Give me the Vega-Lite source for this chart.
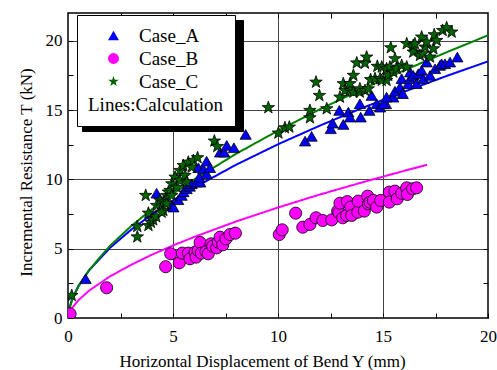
{
  "$schema": "https://vega.github.io/schema/vega-lite/v6.json",
  "width": 420,
  "height": 305,
  "autosize": {"type": "none"},
  "padding": {"left": 68, "top": 13, "right": 9, "bottom": 52},
  "background": "white",
  "config": {
    "font": "Liberation Serif",
    "view": {"stroke": "black", "strokeWidth": 1.5},
    "axis": {
      "labelFontSize": 17, "labelColor": "black", "tickColor": "black", "titleColor": "black",
      "titleFontSize": 17, "titleFontWeight": "normal", "domain": false,
      "labelFlush": false, "labelOverlap": false, "labelBound": false, "tickSize": -5, "tickWidth": 1
    }
  },
  "datasets": {
    "pts": [
      {"case":"Case_A","x":0.84,"y":2.83},{"case":"Case_A","x":4.22,"y":9.0},{"case":"Case_A","x":4.94,"y":8.12},{"case":"Case_A","x":5.02,"y":8.0},
      {"case":"Case_A","x":5.25,"y":8.53},{"case":"Case_A","x":5.41,"y":8.84},{"case":"Case_A","x":5.5,"y":9.1},{"case":"Case_A","x":5.65,"y":9.32},
      {"case":"Case_A","x":5.8,"y":9.5},{"case":"Case_A","x":5.89,"y":9.68},{"case":"Case_A","x":6.13,"y":9.8},{"case":"Case_A","x":6.3,"y":9.8},
      {"case":"Case_A","x":6.25,"y":10.16},{"case":"Case_A","x":6.21,"y":10.84},{"case":"Case_A","x":6.44,"y":10.76},{"case":"Case_A","x":6.6,"y":10.4},
      {"case":"Case_A","x":6.6,"y":11.31},{"case":"Case_A","x":6.76,"y":10.84},{"case":"Case_A","x":7.24,"y":11.96},{"case":"Case_A","x":7.44,"y":11.96},
      {"case":"Case_A","x":7.56,"y":12.45},{"case":"Case_A","x":7.9,"y":12.28},{"case":"Case_A","x":8.46,"y":13.24},{"case":"Case_A","x":11.29,"y":12.76},
      {"case":"Case_A","x":11.6,"y":13.1},{"case":"Case_A","x":12.51,"y":13.65},{"case":"Case_A","x":12.6,"y":14.06},{"case":"Case_A","x":13.11,"y":13.96},
      {"case":"Case_A","x":12.92,"y":14.97},{"case":"Case_A","x":13.35,"y":14.85},{"case":"Case_A","x":13.43,"y":14.49},{"case":"Case_A","x":13.94,"y":14.49},
      {"case":"Case_A","x":13.9,"y":15.45},{"case":"Case_A","x":14.35,"y":14.97},{"case":"Case_A","x":14.46,"y":16.05},{"case":"Case_A","x":14.7,"y":15.45},
      {"case":"Case_A","x":14.86,"y":15.21},{"case":"Case_A","x":15.14,"y":15.45},{"case":"Case_A","x":15.49,"y":15.93},{"case":"Case_A","x":15.57,"y":16.36},
      {"case":"Case_A","x":15.02,"y":15.45},{"case":"Case_A","x":15.17,"y":15.93},{"case":"Case_A","x":15.81,"y":16.65},{"case":"Case_A","x":15.94,"y":16.18},
      {"case":"Case_A","x":15.89,"y":17.26},{"case":"Case_A","x":16.2,"y":16.9},{"case":"Case_A","x":16.29,"y":17.26},{"case":"Case_A","x":16.29,"y":17.74},
      {"case":"Case_A","x":16.44,"y":17.5},{"case":"Case_A","x":16.6,"y":16.9},{"case":"Case_A","x":16.68,"y":17.62},{"case":"Case_A","x":16.84,"y":17.86},
      {"case":"Case_A","x":16.92,"y":17.26},{"case":"Case_A","x":17.08,"y":18.46},{"case":"Case_A","x":17.24,"y":17.5},{"case":"Case_A","x":17.48,"y":17.98},
      {"case":"Case_A","x":17.71,"y":18.22},{"case":"Case_A","x":17.79,"y":18.34},{"case":"Case_A","x":17.95,"y":18.34},{"case":"Case_A","x":18.19,"y":18.46},
      {"case":"Case_A","x":18.54,"y":18.82},
      {"case":"Case_B","x":0.1,"y":0.3},{"case":"Case_B","x":1.84,"y":2.18},{"case":"Case_B","x":4.65,"y":3.7},{"case":"Case_B","x":4.89,"y":4.63},
      {"case":"Case_B","x":5.3,"y":3.98},{"case":"Case_B","x":5.44,"y":4.68},{"case":"Case_B","x":5.73,"y":4.68},{"case":"Case_B","x":5.81,"y":4.27},
      {"case":"Case_B","x":6.05,"y":4.75},{"case":"Case_B","x":6.1,"y":4.39},{"case":"Case_B","x":6.2,"y":4.87},{"case":"Case_B","x":6.29,"y":5.45},
      {"case":"Case_B","x":6.35,"y":4.68},{"case":"Case_B","x":6.57,"y":4.78},{"case":"Case_B","x":6.68,"y":4.63},{"case":"Case_B","x":6.81,"y":5.35},
      {"case":"Case_B","x":6.89,"y":5.18},{"case":"Case_B","x":7.08,"y":5.06},{"case":"Case_B","x":7.16,"y":5.47},{"case":"Case_B","x":7.24,"y":5.83},
      {"case":"Case_B","x":7.37,"y":5.28},{"case":"Case_B","x":7.52,"y":5.71},{"case":"Case_B","x":7.71,"y":6.02},{"case":"Case_B","x":7.97,"y":6.12},
      {"case":"Case_B","x":10.06,"y":6.02},{"case":"Case_B","x":10.2,"y":6.36},{"case":"Case_B","x":10.84,"y":7.56},{"case":"Case_B","x":11.18,"y":6.55},
      {"case":"Case_B","x":11.52,"y":6.75},{"case":"Case_B","x":11.81,"y":7.23},{"case":"Case_B","x":12.13,"y":7.03},{"case":"Case_B","x":12.56,"y":7.08},
      {"case":"Case_B","x":12.84,"y":7.71},{"case":"Case_B","x":12.9,"y":7.61},{"case":"Case_B","x":12.95,"y":8.28},{"case":"Case_B","x":13.08,"y":7.23},
      {"case":"Case_B","x":13.27,"y":7.4},{"case":"Case_B","x":13.3,"y":8.4},{"case":"Case_B","x":13.46,"y":8.0},{"case":"Case_B","x":13.51,"y":7.4},
      {"case":"Case_B","x":13.8,"y":7.63},{"case":"Case_B","x":13.82,"y":8.43},{"case":"Case_B","x":14.11,"y":7.71},{"case":"Case_B","x":14.27,"y":8.79},
      {"case":"Case_B","x":14.3,"y":8.24},{"case":"Case_B","x":14.38,"y":8.36},{"case":"Case_B","x":14.54,"y":8.48},{"case":"Case_B","x":14.7,"y":8.0},
      {"case":"Case_B","x":14.89,"y":8.48},{"case":"Case_B","x":15.3,"y":9.08},{"case":"Case_B","x":15.3,"y":8.36},{"case":"Case_B","x":15.57,"y":9.15},
      {"case":"Case_B","x":15.68,"y":8.6},{"case":"Case_B","x":15.89,"y":9.0},{"case":"Case_B","x":16.13,"y":9.39},{"case":"Case_B","x":16.16,"y":8.91},
      {"case":"Case_B","x":16.41,"y":9.32},{"case":"Case_B","x":16.6,"y":9.39},
      {"case":"Case_C","x":0.18,"y":1.62},{"case":"Case_C","x":3.3,"y":5.85},{"case":"Case_C","x":3.3,"y":6.6},{"case":"Case_C","x":3.7,"y":8.84},
      {"case":"Case_C","x":3.83,"y":7.56},{"case":"Case_C","x":3.83,"y":6.67},{"case":"Case_C","x":3.95,"y":6.9},{"case":"Case_C","x":4.06,"y":7.08},
      {"case":"Case_C","x":4.2,"y":7.3},{"case":"Case_C","x":4.22,"y":8.12},{"case":"Case_C","x":4.38,"y":8.48},{"case":"Case_C","x":4.54,"y":7.76},
      {"case":"Case_C","x":4.46,"y":7.63},{"case":"Case_C","x":4.54,"y":8.36},{"case":"Case_C","x":4.7,"y":8.24},{"case":"Case_C","x":4.7,"y":8.84},
      {"case":"Case_C","x":4.78,"y":9.08},{"case":"Case_C","x":4.86,"y":9.2},{"case":"Case_C","x":4.94,"y":8.84},{"case":"Case_C","x":4.94,"y":9.68},
      {"case":"Case_C","x":5.1,"y":10.16},{"case":"Case_C","x":5.18,"y":9.44},{"case":"Case_C","x":5.33,"y":9.92},{"case":"Case_C","x":5.33,"y":10.64},
      {"case":"Case_C","x":5.49,"y":11.0},{"case":"Case_C","x":5.57,"y":10.28},{"case":"Case_C","x":5.65,"y":9.8},{"case":"Case_C","x":5.73,"y":11.24},
      {"case":"Case_C","x":5.89,"y":10.88},{"case":"Case_C","x":5.97,"y":11.36},{"case":"Case_C","x":6.17,"y":11.56},{"case":"Case_C","x":6.97,"y":12.76},
      {"case":"Case_C","x":7.11,"y":12.37},{"case":"Case_C","x":9.54,"y":15.17},{"case":"Case_C","x":10.02,"y":13.34},{"case":"Case_C","x":10.33,"y":13.72},
      {"case":"Case_C","x":10.54,"y":13.77},{"case":"Case_C","x":11.52,"y":14.44},{"case":"Case_C","x":11.52,"y":14.97},{"case":"Case_C","x":11.81,"y":17.01},
      {"case":"Case_C","x":11.97,"y":16.05},{"case":"Case_C","x":12.32,"y":15.09},{"case":"Case_C","x":12.95,"y":15.93},{"case":"Case_C","x":13.11,"y":16.9},
      {"case":"Case_C","x":13.19,"y":16.41},{"case":"Case_C","x":13.43,"y":16.41},{"case":"Case_C","x":13.43,"y":16.9},{"case":"Case_C","x":13.59,"y":16.29},
      {"case":"Case_C","x":13.59,"y":17.5},{"case":"Case_C","x":13.75,"y":18.4},{"case":"Case_C","x":13.9,"y":16.29},{"case":"Case_C","x":13.9,"y":16.53},
      {"case":"Case_C","x":14.14,"y":16.41},{"case":"Case_C","x":14.14,"y":18.38},{"case":"Case_C","x":14.22,"y":18.82},{"case":"Case_C","x":14.3,"y":16.53},
      {"case":"Case_C","x":14.41,"y":17.19},{"case":"Case_C","x":14.62,"y":17.26},{"case":"Case_C","x":14.73,"y":18.15},{"case":"Case_C","x":14.86,"y":17.26},
      {"case":"Case_C","x":14.94,"y":17.14},{"case":"Case_C","x":14.94,"y":18.1},{"case":"Case_C","x":15.17,"y":17.14},{"case":"Case_C","x":15.17,"y":17.98},
      {"case":"Case_C","x":15.25,"y":17.5},{"case":"Case_C","x":15.33,"y":18.1},{"case":"Case_C","x":15.37,"y":19.49},{"case":"Case_C","x":15.49,"y":17.74},
      {"case":"Case_C","x":15.57,"y":18.7},{"case":"Case_C","x":15.65,"y":17.98},{"case":"Case_C","x":15.89,"y":18.22},{"case":"Case_C","x":16.13,"y":18.1},
      {"case":"Case_C","x":16.13,"y":19.78},{"case":"Case_C","x":16.44,"y":19.18},{"case":"Case_C","x":16.44,"y":19.66},{"case":"Case_C","x":16.52,"y":19.78},
      {"case":"Case_C","x":16.76,"y":18.94},{"case":"Case_C","x":16.84,"y":20.26},{"case":"Case_C","x":16.89,"y":19.06},{"case":"Case_C","x":17.0,"y":19.54},
      {"case":"Case_C","x":17.08,"y":19.9},{"case":"Case_C","x":17.24,"y":18.82},{"case":"Case_C","x":17.4,"y":19.42},{"case":"Case_C","x":17.44,"y":20.43},
      {"case":"Case_C","x":17.56,"y":20.02},{"case":"Case_C","x":17.84,"y":20.74},{"case":"Case_C","x":18.03,"y":20.94},{"case":"Case_C","x":18.27,"y":20.62}
    ],
    "calc": [
      {"case":"Case_A","k":"A","x":0,"y":0},{"case":"Case_A","k":"A","x":0.05,"y":0.63},{"case":"Case_A","k":"A","x":0.2,"y":1.38},{"case":"Case_A","k":"A","x":0.5,"y":2.32},
      {"case":"Case_A","k":"A","x":1,"y":3.43},{"case":"Case_A","k":"A","x":2,"y":5.06},{"case":"Case_A","k":"A","x":3,"y":6.36},{"case":"Case_A","k":"A","x":4,"y":7.48},
      {"case":"Case_A","k":"A","x":5,"y":8.48},{"case":"Case_A","k":"A","x":6,"y":9.4},{"case":"Case_A","k":"A","x":8,"y":11.05},{"case":"Case_A","k":"A","x":10,"y":12.53},
      {"case":"Case_A","k":"A","x":12,"y":13.88},{"case":"Case_A","k":"A","x":14,"y":15.14},{"case":"Case_A","k":"A","x":16,"y":16.32},{"case":"Case_A","k":"A","x":18,"y":17.44},
      {"case":"Case_A","k":"A","x":20,"y":18.51},
      {"case":"Case_B","k":"B","x":0,"y":0},{"case":"Case_B","k":"B","x":0.05,"y":0.32},{"case":"Case_B","k":"B","x":0.2,"y":0.74},{"case":"Case_B","k":"B","x":0.5,"y":1.29},
      {"case":"Case_B","k":"B","x":1,"y":1.97},{"case":"Case_B","k":"B","x":2,"y":3.0},{"case":"Case_B","k":"B","x":3,"y":3.83},{"case":"Case_B","k":"B","x":4,"y":4.57},
      {"case":"Case_B","k":"B","x":5,"y":5.23},{"case":"Case_B","k":"B","x":6,"y":5.84},{"case":"Case_B","k":"B","x":8,"y":6.96},{"case":"Case_B","k":"B","x":10,"y":7.97},
      {"case":"Case_B","k":"B","x":12,"y":8.91},{"case":"Case_B","k":"B","x":14,"y":9.78},{"case":"Case_B","k":"B","x":16,"y":10.61},{"case":"Case_B","k":"B","x":17.1,"y":11.05},
      {"case":"Case_C","k":"C","x":0,"y":0},{"case":"Case_C","k":"C","x":0.05,"y":0.58},{"case":"Case_C","k":"C","x":0.2,"y":1.33},{"case":"Case_C","k":"C","x":0.5,"y":2.29},
      {"case":"Case_C","k":"C","x":1,"y":3.45},{"case":"Case_C","k":"C","x":2,"y":5.21},{"case":"Case_C","k":"C","x":3,"y":6.62},{"case":"Case_C","k":"C","x":4,"y":7.85},
      {"case":"Case_C","k":"C","x":5,"y":8.96},{"case":"Case_C","k":"C","x":6,"y":9.98},{"case":"Case_C","k":"C","x":8,"y":11.84},{"case":"Case_C","k":"C","x":10,"y":13.51},
      {"case":"Case_C","k":"C","x":12,"y":15.06},{"case":"Case_C","k":"C","x":14,"y":16.5},{"case":"Case_C","k":"C","x":16,"y":17.86},{"case":"Case_C","k":"C","x":18,"y":19.15},
      {"case":"Case_C","k":"C","x":20,"y":20.39}
    ]
  },
  "layer": [
    {
      "data": {"name": "calc"},
      "mark": {"type": "line", "strokeWidth": 2, "clip": true},
      "encoding": {
        "x": {"field": "x", "type": "quantitative", "scale": {"domain": [0, 20], "nice": false},
          "axis": {"orient": "top", "labels": false, "title": null, "grid": false, "values": [2.5, 5, 7.5, 10, 12.5, 15, 17.5]}},
        "y": {"field": "y", "type": "quantitative", "scale": {"domain": [0, 22], "nice": false},
          "axis": {"orient": "right", "labels": false, "title": null, "grid": false, "values": [2.5, 5, 7.5, 10, 12.5, 15, 17.5, 20]}},
        "stroke": {"field": "case", "type": "nominal",
          "scale": {"domain": ["Case_C", "Case_B", "Case_A"], "range": ["#008000", "#ff00ff", "#0000ff"]}, "legend": null},
        "strokeDash": {"field": "k", "type": "nominal",
          "scale": {"domain": ["A", "B", "C", "D"], "range": [[1, 0], [1, 0], [1, 0], [1, 0]]},
          "legend": {"orient": "none", "legendX": 14, "legendY": 7, "title": null, "labelExpr": "''",
            "labelFontSize": 19, "labelColor": "black",
            "symbolType": "circle", "symbolSize": 120, "symbolStrokeColor": "black", "symbolFillColor": "black", "symbolOffset": 104, "labelOffset": 16,
            "padding": 11, "rowPadding": 3, "fillColor": "black", "strokeColor": "black", "zindex": 1}}
      }
    },
    {
      "data": {"name": "pts"},
      "mark": {"type": "point", "filled": true, "stroke": "black", "strokeWidth": 0.8, "opacity": 1, "clip": true},
      "encoding": {
        "x": {"field": "x", "type": "quantitative",
          "axis": {"orient": "bottom", "values": [0, 2.5, 5, 7.5, 10, 12.5, 15, 17.5, 20],
            "labelExpr": "datum.value % 5 == 0 ? datum.label : ''", "labelPadding": 15,
            "grid": true, "gridColor": "#444", "gridWidth": 1,
            "gridOpacity": {"condition": {"test": "datum.value % 5 == 0 && datum.value > 0 && datum.value < 20", "value": 1}, "value": 0},
            "title": "Horizontal Displacement of Bend  Y  (mm)", "titlePadding": 9, "titleX": 194}},
        "y": {"field": "y", "type": "quantitative",
          "axis": {"orient": "left", "values": [0, 2.5, 5, 7.5, 10, 12.5, 15, 17.5, 20],
            "labelExpr": "datum.value % 5 == 0 ? datum.label : ''", "labelPadding": 11,
            "grid": true, "gridColor": "#444", "gridWidth": 1,
            "gridOpacity": {"condition": {"test": "datum.value % 5 == 0 && datum.value > 0", "value": 1}, "value": 0},
            "title": "Incremental Resistance  T  (kN)", "titlePadding": 10, "titleY": 159}},
        "fill": {"field": "case", "type": "nominal",
          "scale": {"domain": ["Case_A", "Case_B", "Case_C"], "range": ["#0000ff", "#ff00ff", "#006400"]},
          "legend": {"orient": "none", "legendX": 9, "legendY": 2, "title": "Lines:Calculation", "titleOrient": "bottom", "titleAnchor": "start",
            "titleFontSize": 19, "titleFontWeight": "normal", "titleColor": "black", "labelFontSize": 19, "labelColor": "black",
            "symbolSize": 120, "symbolStrokeColor": "black", "symbolStrokeWidth": 0.8, "symbolOffset": 16, "labelOffset": 16,
            "padding": 11, "rowPadding": 3, "titlePadding": 4, "fillColor": "white", "strokeColor": "black", "zindex": 2}},
        "shape": {"field": "case", "type": "nominal",
          "scale": {"domain": ["Case_A", "Case_B", "Case_C"], "range": ["triangle-up", "circle", "M0,-1L0.235,-0.324L0.951,-0.309L0.38,0.124L0.588,0.809L0,0.4L-0.588,0.809L-0.38,0.124L-0.951,-0.309L-0.235,-0.324Z"]},
          "legend": {"orient": "none", "legendX": 9, "legendY": 2, "title": "Lines:Calculation", "titleOrient": "bottom", "titleAnchor": "start",
            "titleFontSize": 19, "titleFontWeight": "normal", "titleColor": "black", "labelFontSize": 19, "labelColor": "black",
            "symbolSize": 120, "symbolStrokeColor": "black", "symbolStrokeWidth": 0.8, "symbolOffset": 16, "labelOffset": 16,
            "padding": 11, "rowPadding": 3, "titlePadding": 4, "fillColor": "white", "strokeColor": "black", "zindex": 2}},
        "size": {"field": "case", "type": "nominal", "scale": {"domain": ["Case_C", "Case_B", "Case_A"], "range": [170, 125, 170]}, "legend": null}
      }
    }
  ],
  "resolve": {"axis": {"x": "independent", "y": "independent"}}
}
